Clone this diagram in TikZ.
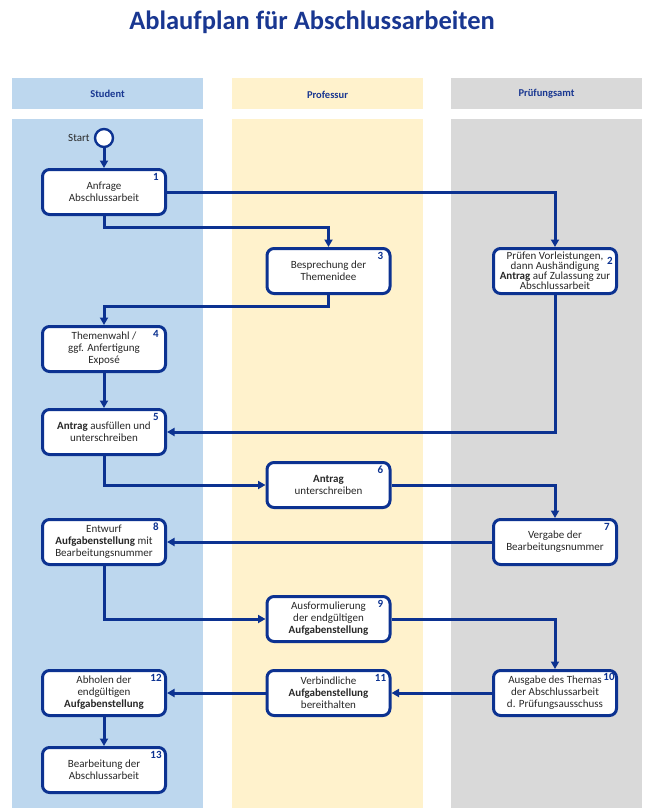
\documentclass[tikz,border=0pt]{standalone}
\usepackage{fontspec}
\setmainfont{Carlito}
\usetikzlibrary{arrows.meta}
\definecolor{navy}{RGB}{12,50,145}
\definecolor{titleblue}{RGB}{25,55,145}
\definecolor{laneblue}{RGB}{189,215,238}
\definecolor{laneyellow}{RGB}{255,242,204}
\definecolor{lanegray}{RGB}{217,217,217}
\definecolor{txt}{RGB}{40,40,40}
\begin{document}
\begin{tikzpicture}[x=1pt,y=-1pt,
  box/.style={draw=navy, line width=3pt, rounded corners=7pt, fill=white,
    minimum width=123pt, minimum height=45pt, align=center, text=txt,
    font=\fontsize{11}{12}\selectfont, inner sep=2pt},
  num/.style={font=\bfseries\fontsize{11}{12}\selectfont, text=navy, inner sep=0pt},
  hdr/.style={font=\bfseries\fontsize{10.5}{12}\selectfont, text=titleblue},
  flow/.style={draw=navy, line width=3pt, -{Triangle[length=7.5pt,width=8pt]}}
]
\useasboundingbox (0,0) rectangle (660,808);
% lanes
\fill[laneblue] (12,78) rectangle (203,109);
\fill[laneyellow] (232,78) rectangle (423,109);
\fill[lanegray] (451,78) rectangle (642,109);
\fill[laneblue] (12,119) rectangle (203,808);
\fill[laneyellow] (232,119) rectangle (423,808);
\fill[lanegray] (451,119) rectangle (642,808);
% title and headers
\node[font=\bfseries\fontsize{26.5}{30}\selectfont, text=titleblue] (title) at (312,22) {Ablaufplan für Abschlussarbeiten};
\node[hdr] (hs) at (107.5,94) {Student};
\node[hdr] (hp) at (327.5,95) {Professur};
\node[hdr] (ha) at (546.5,94) {Prüfungsamt};
% start
\node[circle, draw=navy, line width=2.4pt, fill=white, minimum size=18pt, inner sep=0pt] (start) at (104,138) {};
\node[anchor=east, text=txt, font=\fontsize{11}{12}\selectfont, inner sep=0pt] (startlbl) at ([xshift=-4pt]start.west) {Start};
% boxes
\node[box] (b1) at (104,192) {Anfrage\\Abschlussarbeit};
\node[box] (b3) at (328.5,271) {Besprechung der\\Themenidee};
\node[box, font=\fontsize{11}{10}\selectfont] (b2) at (555,271) {Prüfen Vorleistungen,\hspace{6pt}\\dann Aushändigung\\\textbf{Antrag} auf Zulassung zur\\Abschlussarbeit};
\node[box] (b4) at (104,349) {Themenwahl /\\ggf. Anfertigung\\Exposé};
\node[box] (b5) at (104,432) {\textbf{Antrag} ausfüllen und\\unterschreiben};
\node[box] (b6) at (328.5,485) {\textbf{Antrag}\\unterschreiben};
\node[box] (b7) at (555,542) {Vergabe der\\Bearbeitungsnummer};
\node[box] (b8) at (104,542) {Entwurf\\\textbf{Aufgabenstellung} mit\\Bearbeitungsnummer};
\node[box] (b9) at (328.5,619) {Ausformulierung\\der endgültigen\\\textbf{Aufgabenstellung}};
\node[box] (b10) at (555,693) {Ausgabe des Themas\\der Abschlussarbeit\\d. Prüfungsausschuss};
\node[box] (b11) at (328.5,693) {Verbindliche\\\textbf{Aufgabenstellung}\\bereithalten};
\node[box] (b12) at (104,693) {Abholen der\\endgültigen\\\textbf{Aufgabenstellung}};
\node[box] (b13) at (104,770) {Bearbeitung der\\Abschlussarbeit};
% numbers
\foreach \b/\n in {b1/1,b3/3,b4/4,b5/5,b6/6,b7/7,b8/8,b9/9,b11/11,b12/12,b13/13}
  \node[num] (n\n) at ([xshift=-11pt,yshift=-9pt]\b.north east) {\n};
\node[num] (n2) at ([xshift=-8pt,yshift=-14pt]b2.north east) {2};
\node[num] (n10) at ([xshift=-9pt,yshift=-8pt]b10.north east) {10};
% connectors
\draw[flow] (start) -- (b1);
\draw[flow] (b1.east) -| (b2.north);
\draw[flow] (b1.south) -- (b1.south |- 0,227) -| (b3.north);
\draw[flow] (b3.south) -- (b3.south |- 0,306) -| (b4.north);
\draw[flow] (b4) -- (b5);
\draw[flow] (b2.south) |- (b5.east);
\draw[flow] (b5.south) |- (b6.west);
\draw[flow] (b6.east) -| (b7.north);
\draw[flow] (b7) -- (b8);
\draw[flow] (b8.south) |- (b9.west);
\draw[flow] (b9.east) -| (b10.north);
\draw[flow] (b10) -- (b11);
\draw[flow] (b11) -- (b12);
\draw[flow] (b12) -- (b13);
\end{tikzpicture}
\end{document}
